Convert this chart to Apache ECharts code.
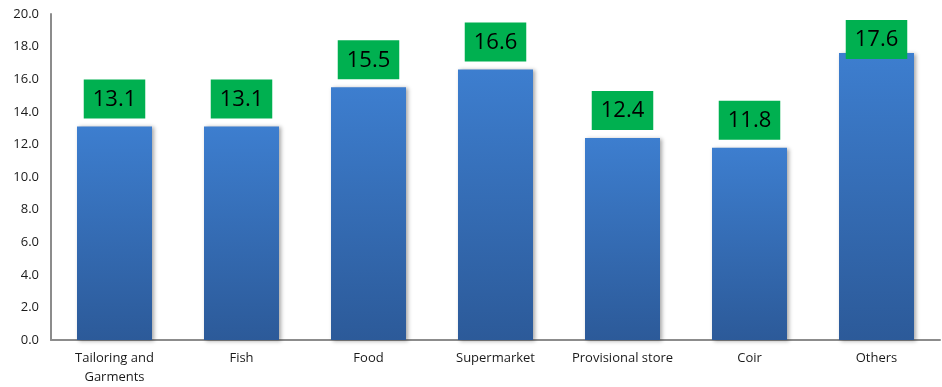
<!DOCTYPE html>
<html>
<head>
<meta charset="utf-8">
<script src="https://cdn.jsdelivr.net/npm/echarts@6/dist/echarts.min.js"></script>
<style>
  html, body { margin: 0; padding: 0; background: #fff; }
  #chart { width: 942px; height: 387px; }
</style>
</head>
<body>
<div id="chart"></div>
<script>
// data
var categories = ['Tailoring and\nGarments', 'Fish', 'Food', 'Supermarket', 'Provisional store', 'Coir', 'Others'];
var values = [13.1, 13.1, 15.5, 16.6, 12.4, 11.8, 17.6];

var myChart = echarts.init(document.getElementById('chart'));

// the top label gets pushed down onto the bar, like in the picture
var barData = values.map(function (v) {
    var item = { value: v };
    if (v > 17) {
        item.label = { offset: [0, 14] };
    }
    return item;
});

var option = {
    animation: false,
    grid: { left: 51, right: 2, top: 14, bottom: 47, containLabel: false },
    xAxis: {
        type: 'category',
        data: categories,
        axisLine: { lineStyle: { color: '#8c8c8c', width: 2 } },
        axisTick: { show: false },
        axisLabel: {
            color: '#1a1a1a',
            fontFamily: 'Open Sans',
            fontSize: 13,
            lineHeight: 19,
            margin: 9,
            interval: 0
        }
    },
    yAxis: {
        type: 'value',
        min: 0,
        max: 20,
        interval: 2,
        axisLine: { show: true, lineStyle: { color: '#8c8c8c', width: 2 } },
        axisTick: { show: false },
        splitLine: { show: false },
        axisLabel: {
            color: '#1a1a1a',
            fontFamily: 'Open Sans',
            fontSize: 13,
            margin: 12,
            formatter: function (v) { return v.toFixed(1); }
        }
    },
    series: [{
        type: 'bar',
        data: barData,
        barWidth: 75,
        itemStyle: {
            color: new echarts.graphic.LinearGradient(0, 0, 0, 1, [
                { offset: 0, color: '#3d7ecf' },
                { offset: 1, color: '#2c5a99' }
            ]),
            shadowColor: 'rgba(0,0,0,0.35)',
            shadowBlur: 4,
            shadowOffsetX: 2,
            shadowOffsetY: 1
        },
        label: {
            show: true,
            position: 'top',
            distance: 8,
            color: '#000',
            fontFamily: 'Open Sans',
            fontSize: 22,
            lineHeight: 24,
            backgroundColor: '#00b050',
            padding: [8, 9, 7, 9],
            formatter: function (p) { return p.value.toFixed(1); }
        }
    }]
};

myChart.setOption(option);
</script>
</body>
</html>
